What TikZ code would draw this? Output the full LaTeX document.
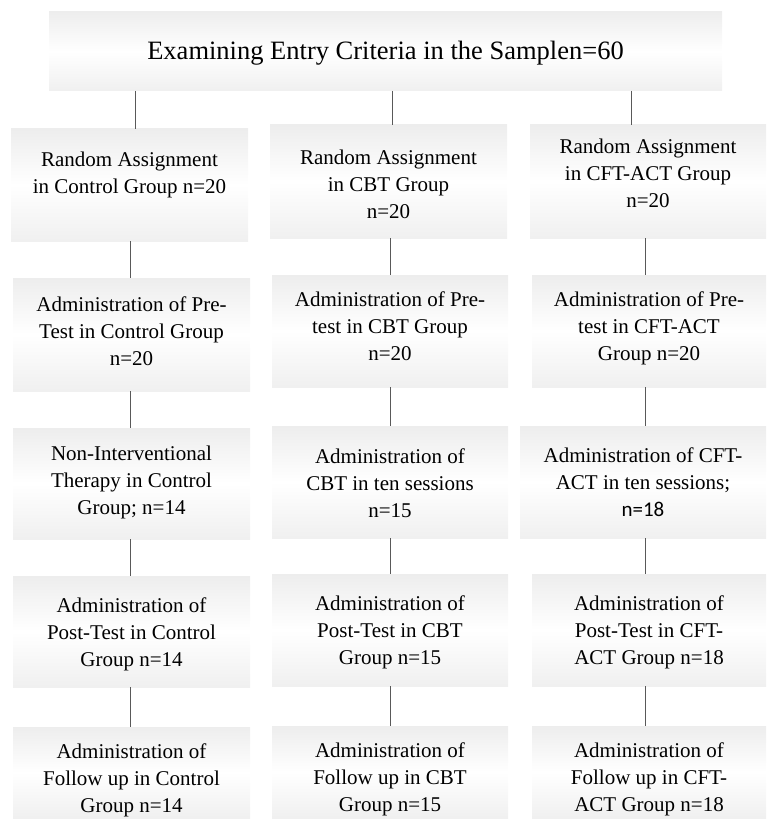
\documentclass[tikz,border=0pt]{standalone}
\usepackage{fontspec}
\setmainfont{Liberation Serif}
\newfontfamily\calib{Carlito}
\tikzset{
  boxsty/.style={rectangle, inner sep=0pt, outer sep=0pt, draw=none,
    top color=black!7, bottom color=black!6, middle color=white},
  txtsty/.style={align=center, inner sep=0pt, font=\fontsize{21}{27}\selectfont},
  toptxt/.style={align=center, inner sep=0pt, font=\fontsize{26.5}{30}\selectfont},
  link/.style={draw=black!65, line width=0.9pt},
}
\newcommand\bx[7]{%
  \pgfmathsetmacro\bw{#4-#2}\pgfmathsetmacro\bh{#5-#3}%
  \pgfmathsetmacro\bcx{(#2+#4)/2}\pgfmathsetmacro\bcy{(#3+#5)/2}%
  \node[boxsty, minimum width=\bw pt, minimum height=\bh pt] (#1) at (\bcx,\bcy) {};
  \node[txtsty] (#1t) at ([yshift=#6pt]#1.center) {#7};
}
\begin{document}
\begin{tikzpicture}[x=1pt,y=-1pt]
\useasboundingbox (0,0) rectangle (766,829);
% top box
\pgfmathsetmacro\tw{722-49}
\node[boxsty, minimum width=\tw pt, minimum height=79pt] (top) at (385.5,51.5) {};
\node[toptxt] (topt) at ([yshift=-2pt]top.center) {Examining Entry Criteria in the Samplen=60};
% column 1
\bx{a1}{11}{129}{248}{241}{10}{Random Assignment\\in Control Group n=20}
\bx{a2}{13}{278}{250}{391}{3}{Administration of Pre-\\Test in Control Group\\n=20}
\bx{a3}{13}{428}{250}{539}{1}{Non-Interventional\\Therapy in Control\\Group; n=14}
\bx{a4}{13}{576}{250}{687}{-2.5}{Administration of\\Post-Test in Control\\Group n=14}
\bx{a5}{13}{727}{250}{818}{-7.5}{Administration of\\Follow up in Control\\Group n=14}
% column 2
\bx{b1}{270}{125}{507}{238}{-3}{Random Assignment\\in CBT Group\\n=20}
\bx{b2}{272}{275}{508}{387}{5}{Administration of Pre-\\test in CBT Group\\n=20}
\bx{b3}{272}{426}{508}{538}{-1}{Administration of\\CBT in ten sessions\\n=15}
\bx{b4}{272}{574}{508}{686}{-2}{Administration of\\Post-Test in CBT\\Group n=15}
\bx{b5}{272}{726}{508}{818}{-7}{Administration of\\Follow up in CBT\\Group n=15}
% column 3
\bx{c1}{530}{125}{766}{238}{8.5}{Random Assignment\\in CFT-ACT Group\\n=20}
\bx{c2}{532}{275}{766}{387}{3}{Administration of Pre-\\test in CFT-ACT\\Group n=20}
\bx{c3}{520}{426}{766}{538}{0}{Administration of CFT-\\ACT in ten sessions;\\{\calib n=18}}
\bx{c4}{532}{574}{766}{686}{-2}{Administration of\\Post-Test in CFT-\\ACT Group n=18}
\bx{c5}{532}{726}{766}{818}{-7}{Administration of\\Follow up in CFT-\\ACT Group n=18}
% connector x positions
\coordinate (xa) at (135,0);
\coordinate (xb) at (392,0);
\coordinate (xc) at (631,0);
\coordinate (ya) at (130,0);
\coordinate (yb) at (390,0);
\coordinate (yc) at (645,0);
\draw[link] (top.south -| xa) -- (a1.north -| xa);
\draw[link] (top.south -| xb) -- (b1.north -| xb);
\draw[link] (top.south -| xc) -- (c1.north -| xc);
\foreach \p/\q in {a1/a2,a2/a3,a3/a4,a4/a5}{\draw[link] (\p.south -| ya) -- (\q.north -| ya);}
\foreach \p/\q in {b1/b2,b2/b3,b3/b4,b4/b5}{\draw[link] (\p.south -| yb) -- (\q.north -| yb);}
\foreach \p/\q in {c1/c2,c2/c3,c3/c4,c4/c5}{\draw[link] (\p.south -| yc) -- (\q.north -| yc);}
\end{tikzpicture}
\end{document}
